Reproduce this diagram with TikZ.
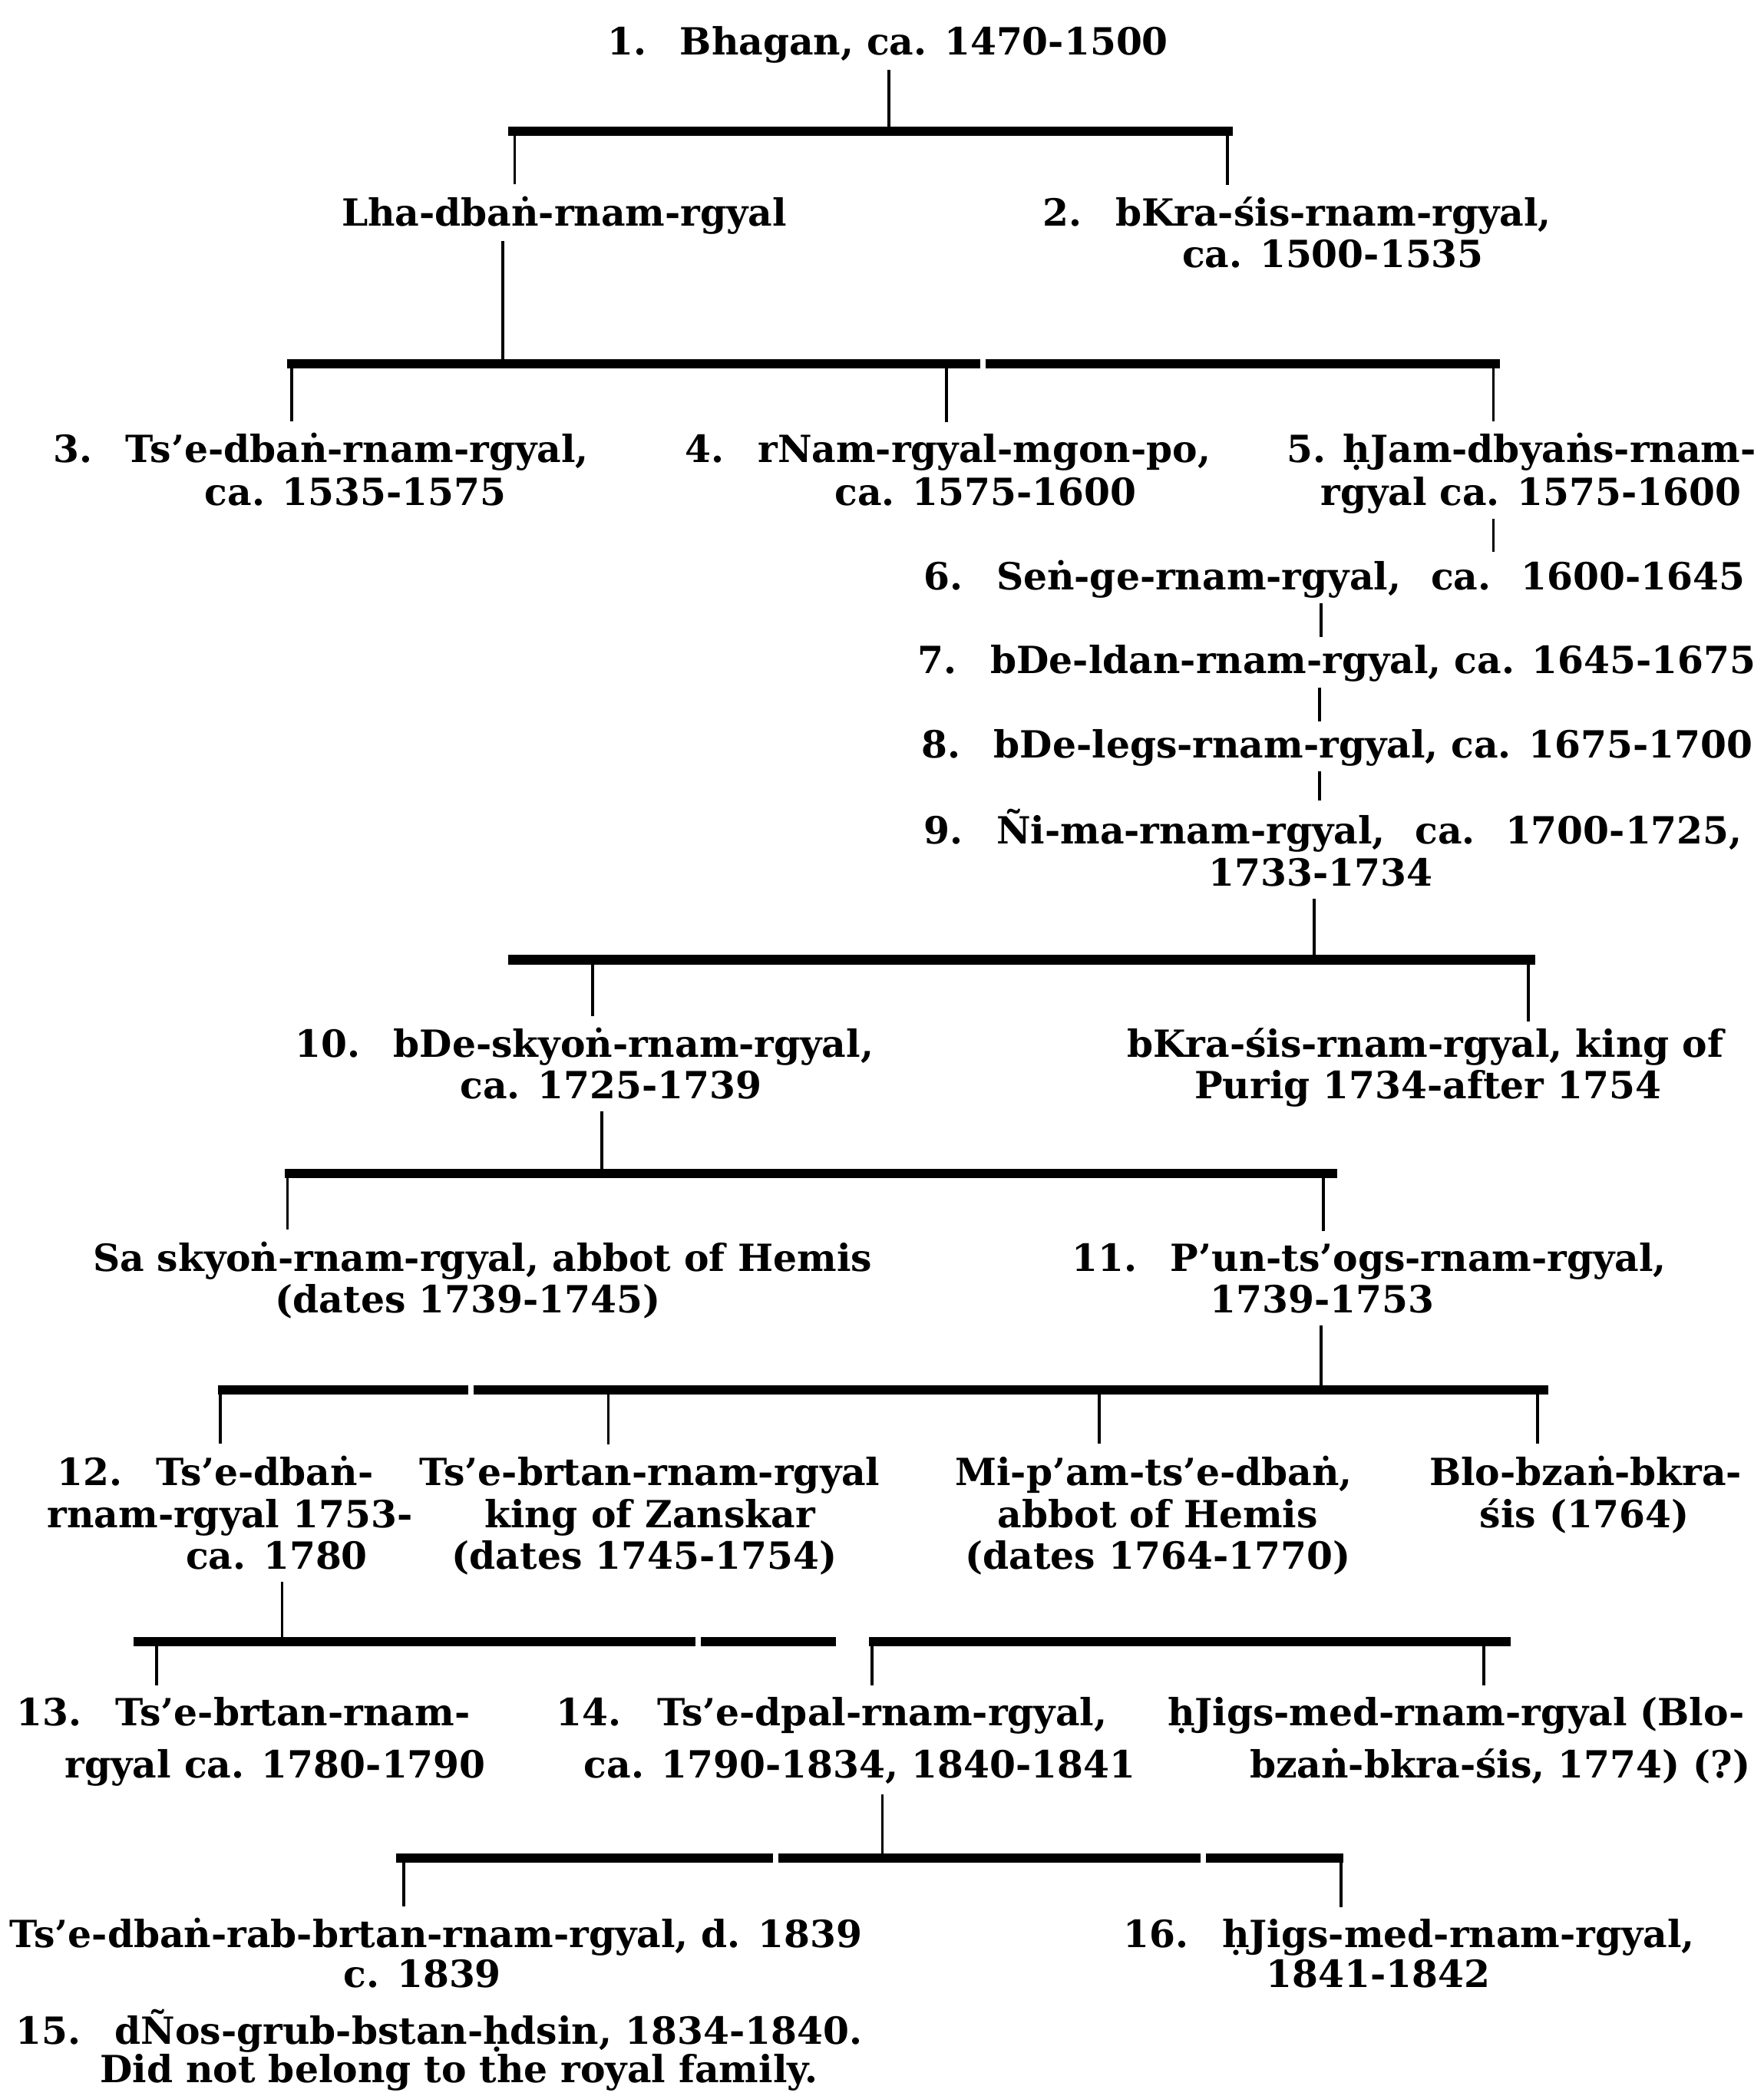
\documentclass[tikz,border=0pt]{standalone}
\usepackage{fontspec}
\setmainfont{DejaVu Serif}[BoldFont={DejaVu Serif Bold}]
\newcommand\gapn{\hspace{0.9em}}
\newcommand\gapw{\hspace{0.8em}}
\begin{document}
\begin{tikzpicture}[x=1pt,y=-1pt,
  every node/.style={inner sep=0pt, outer sep=0pt, font=\fontsize{28}{32}\selectfont\bfseries},
  txt/.style={anchor=base},
  txl/.style={anchor=base west},
  stem/.style={line width=2.2pt, shorten <=4pt, shorten >=6pt},
  up/.style={line width=2.2pt, shorten <=5pt},
  drop/.style={line width=2.2pt, shorten >=9pt},
  bar/.style={line width=7pt}]
\useasboundingbox (0,0) rectangle (1319,1568);

% ---------- generation 1
\node[txt] (n1) at (664,41) {1.\gapn Bhagan, ca. 1470-1500};
\coordinate (j1) at (665,98);
\coordinate (b1l) at (380,98); \coordinate (b1r) at (922,98);
\coordinate (d1a) at (385,98); \coordinate (d1b) at (918,98);
\draw[bar] (b1l) -- (b1r);
\draw[up] (n1.south -| j1) -- (j1);

% ---------- generation 2
\node[txt] (n2L) at (422,169) {Lha-dbaṅ-rnam-rgyal};
\node[txt] (n2) at (970,169) {2.\gapn bKra-śis-rnam-rgyal,};
\node[txt] (n2b) at (997,200) {ca. 1500-1535};
\draw[drop] (d1a) -- (d1a |- n2L.north);
\draw[drop] (d1b) -- (d1b |- n2.north);

\coordinate (j2) at (376,272);
\coordinate (b2l) at (215,272); \coordinate (b2m1) at (733,272);
\coordinate (b2m2) at (737,272); \coordinate (b2r) at (1122,272);
\coordinate (d2a) at (218,272); \coordinate (d2b) at (708,272); \coordinate (d2c) at (1117,272);
\draw[bar] (b2l) -- (b2m1);
\draw[bar] (b2m2) -- (b2r);
\draw[up] (n2L.south -| j2) -- (j2);

% ---------- generation 3
\node[txt] (n3) at (240,346) {3.\gapn Ts’e-dbaṅ-rnam-rgyal,};
\node[txt] (n3b) at (266,378) {ca. 1535-1575};
\node[txt] (n4) at (709,346) {4.\gapn rNam-rgyal-mgon-po,};
\node[txt] (n4b) at (737,378) {ca. 1575-1600};
\node[txt] (n5) at (1138,346) {5. ḥJam-dbyaṅs-rnam-};
\node[txt] (n5b) at (1145,378) {rgyal ca. 1575-1600};
\draw[drop] (d2a) -- (d2a |- n3.north);
\draw[drop] (d2b) -- (d2b |- n4.north);
\draw[drop] (d2c) -- (d2c |- n5.north);

% ---------- line of succession 6-9
\node[txt] (n6) at (998,441) {6.\gapn Seṅ-ge-rnam-rgyal,\gapw ca.\gapw 1600-1645};
\node[txt] (n7) at (1000,504) {7.\gapn bDe-ldan-rnam-rgyal, ca. 1645-1675};
\node[txt] (n8) at (1000,567) {8.\gapn bDe-legs-rnam-rgyal, ca. 1675-1700};
\node[txt] (n9) at (997,631) {9.\gapn Ñi-ma-rnam-rgyal,\gapw ca.\gapw 1700-1725,};
\node[txt] (n9b) at (988,663) {1733-1734};
\coordinate (x5) at (1117,0);
\coordinate (x6) at (988,0);
\coordinate (x7) at (987,0);
\draw[stem] (n5b.south -| x5) -- (n6.north -| x5);
\draw[stem] (n6.south -| x6) -- (n7.north -| x6);
\draw[stem] (n7.south -| x7) -- (n8.north -| x7);
\draw[stem] (n8.south -| x7) -- (n9.north -| x7);

\coordinate (j3) at (983,718);
\coordinate (b3l) at (380,718); \coordinate (b3r) at (1148,718);
\coordinate (d3a) at (443,718); \coordinate (d3b) at (1143,718);
\draw[bar] (b3l) -- (b3r);
\draw[up, shorten <=9pt] (n9b.south -| j3) -- (j3);

% ---------- generation 10
\node[txt] (n10) at (437,791) {10.\gapn bDe-skyoṅ-rnam-rgyal,};
\node[txt] (n10b) at (457,822) {ca. 1725-1739};
\node[txt] (n10r) at (1066,791) {bKra-śis-rnam-rgyal, king of};
\node[txt] (n10rb) at (1068,822) {Purig 1734-after 1754};
\draw[drop] (d3a) -- (d3a |- n10.north);
\draw[drop, shorten >=5pt] (d3b) -- (d3b |- n10r.north);

\coordinate (j4) at (450,878);
\coordinate (b4l) at (213,878); \coordinate (b4r) at (1000,878);
\coordinate (d4a) at (215,878); \coordinate (d4b) at (990,878);
\draw[bar] (b4l) -- (b4r);
\draw[up, shorten <=9pt] (n10b.south -| j4) -- (j4);

% ---------- generation 11
\node[txt] (n11L) at (361,951) {Sa skyoṅ-rnam-rgyal, abbot of Hemis};
\node[txt] (n11Lb) at (350,982) {(dates 1739-1745)};
\node[txt] (n11) at (1024,951) {11.\gapn P’un-ts’ogs-rnam-rgyal,};
\node[txt] (n11b) at (989,982) {1739-1753};
\draw[drop] (d4a) -- (d4a |- n11L.north);
\draw[drop] (d4b) -- (d4b |- n11.north);

\coordinate (j5) at (988,1040);
\coordinate (b5l) at (163,1040); \coordinate (b5m1) at (350,1040);
\coordinate (b5m2) at (354,1040); \coordinate (b5r) at (1158,1040);
\coordinate (d5a) at (165,1040); \coordinate (d5b) at (455,1040);
\coordinate (d5c) at (822,1040); \coordinate (d5d) at (1150,1040);
\draw[bar] (b5l) -- (b5m1);
\draw[bar] (b5m2) -- (b5r);
\draw[up, shorten <=9pt] (n11b.south -| j5) -- (j5);

% ---------- generation 12
\node[txt] (n12) at (161,1111) {12.\gapn Ts’e-dbaṅ-};
\node[txt] (n12b) at (172,1143) {rnam-rgyal 1753-};
\node[txt] (n12c) at (207,1174) {ca. 1780};
\node[txt] (n12x) at (486,1111) {Ts’e-brtan-rnam-rgyal};
\node[txt] (n12xb) at (486,1143) {king of Zanskar};
\node[txt] (n12xc) at (482,1174) {(dates 1745-1754)};
\node[txt] (n12y) at (863,1111) {Mi-p’am-ts’e-dbaṅ,};
\node[txt] (n12yb) at (866,1143) {abbot of Hemis};
\node[txt] (n12yc) at (866,1174) {(dates 1764-1770)};
\node[txt] (n12z) at (1186,1111) {Blo-bzaṅ-bkra-};
\node[txt] (n12zb) at (1185,1143) {śis (1764)};
\draw[drop] (d5a) -- (d5a |- n12.north);
\draw[drop] (d5b) -- (d5b |- n12x.north);
\draw[drop] (d5c) -- (d5c |- n12y.north);
\draw[drop] (d5d) -- (d5d |- n12z.north);

\coordinate (j6) at (211,1228);
\coordinate (b6l) at (100,1228); \coordinate (b6m1) at (520,1228);
\coordinate (b6m2) at (524,1228); \coordinate (b6r) at (625,1228);
\coordinate (b7l) at (650,1228); \coordinate (b7r) at (1130,1228);
\coordinate (d6a) at (117,1228); \coordinate (d7a) at (652,1228); \coordinate (d7b) at (1110,1228);
\draw[bar] (b6l) -- (b6m1);
\draw[bar] (b6m2) -- (b6r);
\draw[bar] (b7l) -- (b7r);
\draw[up, shorten <=9pt] (n12c.south -| j6) -- (j6);

% ---------- generation 13
\node[txt] (n13) at (182,1291) {13.\gapn Ts’e-brtan-rnam-};
\node[txt] (n13b) at (206,1330) {rgyal ca. 1780-1790};
\node[txt] (n14) at (622,1291) {14.\hspace{0.5em} Ts’e-dpal-rnam-rgyal,};
\node[txt] (n14b) at (643,1330) {ca. 1790-1834, 1840-1841};
\node[txt] (n14r) at (1089,1291) {ḥJigs-med-rnam-rgyal (Blo-};
\node[txt] (n14rb) at (1122,1330) {bzaṅ-bkra-śis, 1774) (?)};
\draw[drop] (d6a) -- (d6a |- n13.north);
\draw[drop] (d7a) -- (d7a |- n14.north);
\draw[drop] (d7b) -- (d7b |- n14r.north);

\coordinate (j8) at (660,1390);
\coordinate (b8l) at (296,1390); \coordinate (b8m1) at (578,1390);
\coordinate (b8m2) at (582,1390); \coordinate (b8m3) at (898,1390);
\coordinate (b8m4) at (902,1390); \coordinate (b8r) at (1005,1390);
\coordinate (d8a) at (302,1390); \coordinate (d8b) at (1003,1390);
\draw[bar] (b8l) -- (b8m1);
\draw[bar] (b8m2) -- (b8m3);
\draw[bar] (b8m4) -- (b8r);
\draw[up, shorten <=8pt] (n14b.south -| j8) -- (j8);

% ---------- generation 14
\node[txt] (n15L) at (326,1457) {Ts’e-dbaṅ-rab-brtan-rnam-rgyal, d. 1839};
\node[txt] (n15Lb) at (316,1487) {c. 1839};
\node[txt] (n16) at (1054,1457) {16.\gapn ḥJigs-med-rnam-rgyal,};
\node[txt] (n16b) at (1031,1487) {1841-1842};
\draw[drop] (d8a) -- (d8a |- n15L.north);
\draw[drop] (d8b) -- (d8b |- n16.north);

\node[txl] (n15) at (12,1529) {15.\gapn dÑos-grub-bstan-ḥdsin, 1834-1840.};
\node[txl] (n15b) at (75,1558) {Did not belong to the royal family.};
\end{tikzpicture}
\end{document}
